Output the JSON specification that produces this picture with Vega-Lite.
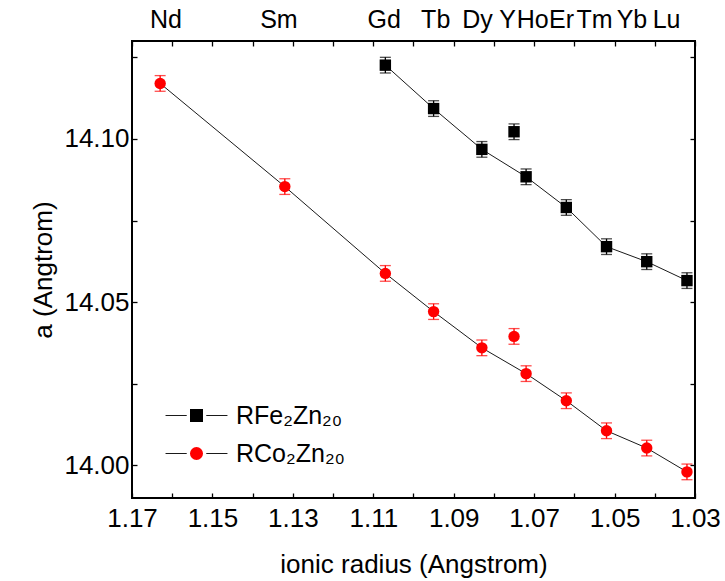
{
  "$schema": "https://vega.github.io/schema/vega-lite/v6.json",
  "autosize": {"type": "none"},
  "padding": {"left": 132, "top": 41, "right": 30, "bottom": 83},
  "width": 563,
  "height": 457,
  "background": "white",
  "config": {
    "font": "Liberation Sans",
    "view": {"stroke": "black", "strokeWidth": 2},
    "axis": {"grid": false, "domain": false, "labelColor": "black", "titleColor": "black", "tickColor": "black", "tickWidth": 1.3, "labelFont": "Liberation Sans", "titleFont": "Liberation Sans", "titleFontWeight": "normal", "labelFontSize": 26, "titleFontSize": 26, "labelFlush": false, "labelOverlap": false, "labelBound": false},
    "legend": {"labelFont": "Liberation Sans", "labelColor": "black"}
  },
  "data": {
    "values": [
      {"element": "Nd", "r": 1.163, "a": 14.117, "err": 0.0024, "series": "RCo₂Zn₂₀"},
      {"element": "Sm", "r": 1.132, "a": 14.0854, "err": 0.0024, "series": "RCo₂Zn₂₀"},
      {"element": "Gd", "r": 1.107, "a": 14.0588, "err": 0.0024, "series": "RCo₂Zn₂₀"},
      {"element": "Tb", "r": 1.095, "a": 14.0471, "err": 0.0024, "series": "RCo₂Zn₂₀"},
      {"element": "Dy", "r": 1.083, "a": 14.036, "err": 0.0024, "series": "RCo₂Zn₂₀"},
      {"element": "Y", "r": 1.075, "a": 14.0395, "err": 0.0024, "series": "RCo₂Zn₂₀"},
      {"element": "Ho", "r": 1.072, "a": 14.0281, "err": 0.0024, "series": "RCo₂Zn₂₀"},
      {"element": "Er", "r": 1.062, "a": 14.0198, "err": 0.0024, "series": "RCo₂Zn₂₀"},
      {"element": "Tm", "r": 1.052, "a": 14.0106, "err": 0.0024, "series": "RCo₂Zn₂₀"},
      {"element": "Yb", "r": 1.042, "a": 14.0053, "err": 0.0024, "series": "RCo₂Zn₂₀"},
      {"element": "Lu", "r": 1.032, "a": 13.998, "err": 0.0024, "series": "RCo₂Zn₂₀"},
      {"element": "Gd", "r": 1.107, "a": 14.1226, "err": 0.0024, "series": "RFe₂Zn₂₀"},
      {"element": "Tb", "r": 1.095, "a": 14.1093, "err": 0.0024, "series": "RFe₂Zn₂₀"},
      {"element": "Dy", "r": 1.083, "a": 14.0968, "err": 0.0024, "series": "RFe₂Zn₂₀"},
      {"element": "Y", "r": 1.075, "a": 14.1022, "err": 0.0024, "series": "RFe₂Zn₂₀"},
      {"element": "Ho", "r": 1.072, "a": 14.0884, "err": 0.0024, "series": "RFe₂Zn₂₀"},
      {"element": "Er", "r": 1.062, "a": 14.079, "err": 0.0024, "series": "RFe₂Zn₂₀"},
      {"element": "Tm", "r": 1.052, "a": 14.067, "err": 0.0024, "series": "RFe₂Zn₂₀"},
      {"element": "Yb", "r": 1.042, "a": 14.0624, "err": 0.0024, "series": "RFe₂Zn₂₀"},
      {"element": "Lu", "r": 1.032, "a": 14.0566, "err": 0.0024, "series": "RFe₂Zn₂₀"}
    ]
  },
  "resolve": {"axis": {"x": "independent", "y": "independent"}, "legend": {"stroke": "independent"}},
  "layer": [
    {
      "transform": [{"filter": "datum.element != 'Y'"}],
      "mark": {"type": "line", "strokeWidth": 1},
      "encoding": {
        "x": {
          "field": "r", "type": "quantitative",
          "scale": {"domain": [1.03, 1.17], "reverse": true, "nice": false, "zero": false},
          "axis": {
            "orient": "bottom",
            "title": "ionic radius (Angstrom)",
            "values": [1.17, 1.16, 1.15, 1.14, 1.13, 1.12, 1.11, 1.1, 1.09, 1.08, 1.07, 1.06, 1.05, 1.04, 1.03],
            "labelExpr": "round(datum.value*100) % 2 == 1 ? format(datum.value, '.2f') : ''",
            "tickSize": -5,
            "labelPadding": 12,
            "titlePadding": 20,
            "encode": {"ticks": {"update": {"y2": {"signal": "round(datum.value*100) % 2 == 1 ? -9 : -5"}}}}
          }
        },
        "y": {
          "field": "a", "type": "quantitative",
          "scale": {"domain": [13.99, 14.13], "nice": false, "zero": false},
          "axis": {
            "orient": "left",
            "title": "a (Angtrom)",
            "values": [14.0, 14.025, 14.05, 14.075, 14.1, 14.125],
            "labelExpr": "round(datum.value*40) % 2 == 0 ? format(datum.value, '.2f') : ''",
            "tickSize": -5,
            "labelPadding": 8,
            "titlePadding": 7,
            "encode": {"ticks": {"update": {"x2": {"signal": "round(datum.value*40) % 2 == 0 ? 9 : 5"}}}}
          }
        },
        "stroke": {
          "field": "series", "type": "nominal",
          "scale": {"domain": ["RCo₂Zn₂₀", "RFe₂Zn₂₀"], "range": ["#1a1a1a", "#1a1a1a"]},
          "legend": {
            "orient": "none", "legendX": 52, "legendY": 362, "title": null, "padding": 0,
            "symbolType": "M-4.75,0H-1.5M1.5,0H4.75", "symbolSize": 170, "symbolStrokeWidth": 1,
            "labelFontSize": 25, "labelOffset": 27, "rowPadding": 12, "labelExpr": "''"
          }
        }
      }
    },
    {
      "transform": [{"filter": "datum.series == 'RFe₂Zn₂₀'"}],
      "mark": {"type": "errorbar", "ticks": {"size": 11}, "thickness": 1.3, "color": "black"},
      "encoding": {
        "x": {
          "field": "r", "type": "quantitative",
          "axis": {
            "orient": "top", "title": null, "labels": false,
            "values": [1.17, 1.16, 1.15, 1.14, 1.13, 1.12, 1.11, 1.1, 1.09, 1.08, 1.07, 1.06, 1.05, 1.04, 1.03],
            "tickSize": -5,
            "encode": {"ticks": {"update": {"y2": {"signal": "round(datum.value*100) % 2 == 1 ? 9 : 5"}}}}
          }
        },
        "y": {
          "field": "a", "type": "quantitative",
          "axis": {
            "orient": "right", "title": null, "labels": false,
            "values": [14.0, 14.025, 14.05, 14.075, 14.1, 14.125],
            "tickSize": -5,
            "encode": {"ticks": {"update": {"x2": {"signal": "round(datum.value*40) % 2 == 0 ? -9 : -5"}}}}
          }
        },
        "yError": {"field": "err"}
      }
    },
    {
      "transform": [{"filter": "datum.series == 'RCo₂Zn₂₀'"}],
      "mark": {"type": "errorbar", "ticks": {"size": 11}, "thickness": 1.3, "color": "#ff0000"},
      "encoding": {
        "x": {"field": "r", "type": "quantitative", "axis": null},
        "y": {"field": "a", "type": "quantitative", "axis": null},
        "yError": {"field": "err"}
      }
    },
    {
      "mark": {"type": "point", "filled": true, "size": 130, "opacity": 1},
      "encoding": {
        "x": {
          "field": "r", "type": "quantitative",
          "axis": {
            "orient": "top", "title": null, "ticks": false,
            "values": [1.1617, 1.1336, 1.1074, 1.0946, 1.0842, 1.0767, 1.0705, 1.0633, 1.0551, 1.0458, 1.0372],
            "labelExpr": "datum.value > 1.15 ? 'Nd' : datum.value > 1.12 ? 'Sm' : datum.value > 1.1 ? 'Gd' : datum.value > 1.09 ? 'Tb' : datum.value > 1.08 ? 'Dy' : datum.value > 1.074 ? 'Y' : datum.value > 1.067 ? 'Ho' : datum.value > 1.06 ? 'Er' : datum.value > 1.05 ? 'Tm' : datum.value > 1.04 ? 'Yb' : 'Lu'",
            "labelFontSize": 25,
            "labelPadding": 9
          }
        },
        "y": {"field": "a", "type": "quantitative", "axis": null},
        "color": {
          "field": "series", "type": "nominal",
          "scale": {"domain": ["RFe₂Zn₂₀", "RCo₂Zn₂₀"], "range": ["black", "#ff0000"]},
          "legend": {
            "orient": "none", "legendX": 52, "legendY": 362, "title": null, "padding": 0,
            "symbolSize": 170, "symbolStrokeWidth": 0,
            "labelFontSize": 25, "labelOffset": 27, "rowPadding": 12
          }
        },
        "shape": {
          "field": "series", "type": "nominal",
          "scale": {"domain": ["RFe₂Zn₂₀", "RCo₂Zn₂₀"], "range": ["square", "circle"]},
          "legend": {
            "orient": "none", "legendX": 52, "legendY": 362, "title": null, "padding": 0,
            "symbolSize": 170, "symbolStrokeWidth": 0,
            "labelFontSize": 25, "labelOffset": 27, "rowPadding": 12
          }
        }
      }
    }
  ]
}
